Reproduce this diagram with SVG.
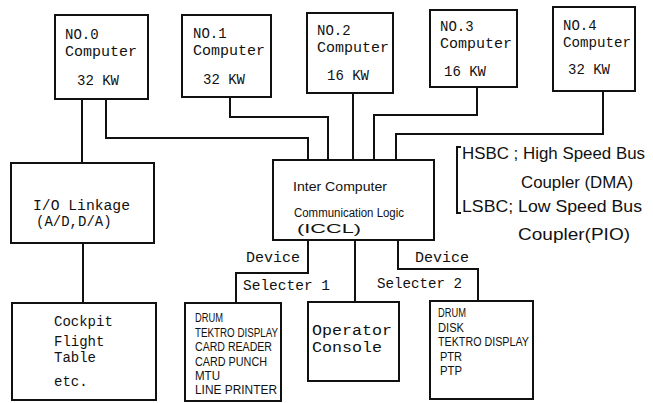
<svg xmlns="http://www.w3.org/2000/svg" width="653" height="403" viewBox="0 0 653 403">
<style>
.box{fill:none;stroke:#111;stroke-width:2}
.ln{fill:none;stroke:#111;stroke-width:2}
.t{font-family:"Liberation Mono","Courier New",monospace;font-size:14px;fill:#111}
.h{font-family:"Liberation Sans",Arial,sans-serif;font-size:12px;fill:#111}
.a{font-family:"Liberation Sans",Arial,sans-serif;font-size:17px;fill:#111}
</style>
<rect width="653" height="403" fill="#fff"/>
<g id="connectors">
<polyline class="ln" points="82,99 82,163"/>
<polyline class="ln" points="106,99 106,138 308,138 308,160"/>
<polyline class="ln" points="230,97 230,117 328,117 328,160"/>
<polyline class="ln" points="353,93 353,160"/>
<polyline class="ln" points="477,87 477,115 374,115 374,160"/>
<polyline class="ln" points="603,91 603,134 396,134 396,160"/>
<polyline class="ln" points="83,243 83,303"/>
<polyline class="ln" points="308,240 308,273 236,273 236,303"/>
<polyline class="ln" points="355,240 355,302"/>
<polyline class="ln" points="398,240 398,269 478,269 478,301"/>
<path class="ln" d="M461,147 L457,147 L457,213 L461,213" stroke-width="1.6"/>
</g>
<g id="no0"><rect class="box" x="55" y="15" width="93" height="84"/><text class="t" x="65" y="39">NO.0</text><text class="t" x="65" y="56" textLength="72" lengthAdjust="spacingAndGlyphs">Computer</text><text class="t" x="77" y="85">32 KW</text></g>
<g id="no1"><rect class="box" x="182" y="15" width="89" height="82"/><text class="t" x="193" y="38">NO.1</text><text class="t" x="193" y="55" textLength="72" lengthAdjust="spacingAndGlyphs">Computer</text><text class="t" x="203" y="84">32 KW</text></g>
<g id="no2"><rect class="box" x="307" y="13" width="86" height="80"/><text class="t" x="317" y="35">NO.2</text><text class="t" x="317" y="52" textLength="72" lengthAdjust="spacingAndGlyphs">Computer</text><text class="t" x="327" y="80">16 KW</text></g>
<g id="no3"><rect class="box" x="430" y="10" width="87" height="77"/><text class="t" x="440" y="31">NO.3</text><text class="t" x="440" y="48" textLength="72" lengthAdjust="spacingAndGlyphs">Computer</text><text class="t" x="444" y="76">16 KW</text></g>
<g id="no4"><rect class="box" x="553" y="7" width="82" height="84"/><text class="t" x="563" y="30">NO.4</text><text class="t" x="563" y="47" textLength="68" lengthAdjust="spacingAndGlyphs">Computer</text><text class="t" x="568" y="74">32 KW</text></g>
<g id="iccl"><rect class="box" x="273" y="160" width="161" height="80"/><text class="h" x="293" y="191" textLength="94" lengthAdjust="spacingAndGlyphs">Inter Computer</text><text class="h" x="294" y="217" textLength="110" lengthAdjust="spacingAndGlyphs">Communication Logic</text><text class="h" x="297" y="233" textLength="64" lengthAdjust="spacingAndGlyphs">(ICCL)</text></g>
<g id="io"><rect class="box" x="11" y="163" width="143" height="80"/><text class="t" x="33" y="210" textLength="97" lengthAdjust="spacingAndGlyphs">I/O Linkage</text><text class="t" x="36" y="226">(A/D,D/A)</text></g>
<g id="cockpit"><rect class="box" x="12" y="303" width="144" height="97"/><text class="t" x="54" y="326">Cockpit</text><text class="t" x="54" y="346">Flight</text><text class="t" x="54" y="362">Table</text><text class="t" x="54" y="386">etc.</text></g>
<g id="sel1"><text class="t" x="246" y="262" textLength="54" lengthAdjust="spacingAndGlyphs">Device</text><text class="t" x="243" y="290" textLength="87" lengthAdjust="spacingAndGlyphs">Selecter 1</text></g>
<g id="sel2"><text class="t" x="415" y="262" textLength="54" lengthAdjust="spacingAndGlyphs">Device</text><text class="t" x="377" y="288" textLength="85" lengthAdjust="spacingAndGlyphs">Selecter 2</text></g>
<g id="dev1"><rect class="box" x="185" y="303" width="96" height="98"/><text class="h" x="195" y="322" textLength="28" lengthAdjust="spacingAndGlyphs">DRUM</text><text class="h" x="195" y="337" textLength="83" lengthAdjust="spacingAndGlyphs">TEKTRO DISPLAY</text><text class="h" x="195" y="351" textLength="77" lengthAdjust="spacingAndGlyphs">CARD READER</text><text class="h" x="195" y="366" textLength="72" lengthAdjust="spacingAndGlyphs">CARD PUNCH</text><text class="h" x="195" y="380" textLength="25" lengthAdjust="spacingAndGlyphs">MTU</text><text class="h" x="195" y="394" textLength="82" lengthAdjust="spacingAndGlyphs">LINE PRINTER</text></g>
<g id="console"><rect class="box" x="308" y="302" width="91" height="79"/><text class="t" x="312" y="335" textLength="80" lengthAdjust="spacingAndGlyphs">Operator</text><text class="t" x="312" y="352" textLength="70" lengthAdjust="spacingAndGlyphs">Console</text></g>
<g id="dev2"><rect class="box" x="430" y="301" width="103" height="98"/><text class="h" x="438" y="317" textLength="28" lengthAdjust="spacingAndGlyphs">DRUM</text><text class="h" x="438" y="332" textLength="26" lengthAdjust="spacingAndGlyphs">DISK</text><text class="h" x="438" y="346" textLength="91" lengthAdjust="spacingAndGlyphs">TEKTRO DISPLAY</text><text class="h" x="440" y="361" textLength="22" lengthAdjust="spacingAndGlyphs">PTR</text><text class="h" x="440" y="375" textLength="22" lengthAdjust="spacingAndGlyphs">PTP</text></g>
<g id="legend"><text class="a" x="462" y="159" textLength="183" lengthAdjust="spacingAndGlyphs">HSBC ; High Speed Bus</text><text class="a" x="521" y="188" textLength="112" lengthAdjust="spacingAndGlyphs">Coupler (DMA)</text><text class="a" x="462" y="212" textLength="180" lengthAdjust="spacingAndGlyphs">LSBC; Low Speed Bus</text><text class="a" x="518" y="240" textLength="112" lengthAdjust="spacingAndGlyphs">Coupler(PIO)</text></g>
</svg>
